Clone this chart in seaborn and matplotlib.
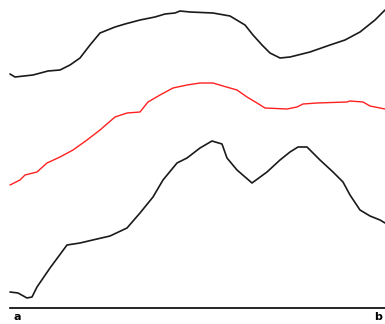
import matplotlib
matplotlib.use("Agg")
import matplotlib.pyplot as plt
import matplotlib.transforms as mtransforms
import seaborn as sns

# positions along the x axis, heights above the baseline
top_x = [0, 5, 23, 38, 50, 60, 70, 80, 90, 95, 105, 115, 130, 145, 155, 165, 170, 180,
         203, 220, 235, 243, 252, 260, 270, 280, 300, 320, 335, 350, 365, 375]
top_y = [234, 231, 233, 237, 238, 243, 250, 263, 275, 277, 281, 284, 288, 291, 294, 295, 297, 296,
         295, 292, 283, 273, 263, 255, 250, 251, 256, 263, 268, 276, 288, 298]

mid_x = [0, 10, 15, 27, 37, 50, 63, 77, 90, 105, 117, 130, 138, 150, 163, 177, 190, 203,
         213, 227, 237, 247, 255, 277, 287, 293, 307, 337, 340, 353, 360, 375]
mid_y = [123, 128, 133, 136, 145, 151, 158, 168, 178, 191, 195, 196, 206, 213, 220, 223, 225, 225,
         222, 218, 211, 205, 200, 199, 201, 204, 205, 206, 207, 206, 202, 199]

low_x = [0, 8, 17, 22, 27, 40, 57, 70, 87, 100, 117, 130, 143, 153, 167, 177, 190, 202,
         212, 217, 227, 242, 257, 270, 280, 288, 297, 310, 323, 333, 340, 350, 360, 370, 375]
low_y = [16, 15, 10, 11, 21, 40, 63, 65, 69, 72, 80, 95, 111, 128, 145, 150, 160, 167,
         164, 150, 138, 125, 136, 148, 156, 161, 161, 148, 136, 126, 113, 98, 92, 88, 85]

tick_labels = ["a", "b"]

sns.set_style("white")
fig = plt.figure(figsize=(3.85, 3.24), dpi=100)
ax = fig.add_axes([10 / 385, 16 / 324, 375 / 385, 308 / 324])

sns.lineplot(x=top_x, y=top_y, ax=ax, color="#1a1a1a", lw=1.2, clip_on=False)
sns.lineplot(x=mid_x, y=mid_y, ax=ax, color="#ff2020", lw=1.0, clip_on=False)
sns.lineplot(x=low_x, y=low_y, ax=ax, color="#1a1a1a", lw=1.2, clip_on=False)

ax.set_xlim(0, 375)
ax.set_ylim(0, 308)
sns.despine(ax=ax, left=True, top=True, right=True)
ax.spines["bottom"].set_color("black")
ax.spines["bottom"].set_linewidth(1.2)
ax.set_yticks([])
ax.set_xticks([0, 375])
ax.set_xticklabels(tick_labels, fontsize=8, fontweight="bold", color="black")
ax.tick_params(axis="x", length=0, pad=3)
labels = ax.get_xticklabels()
labels[0].set_ha("left")
labels[1].set_ha("right")
# nudge the end labels slightly inward
for lab, dx in zip(labels, [4, -3]):
    lab.set_transform(lab.get_transform() +
                      mtransforms.ScaledTranslation(dx / 100, 0, fig.dpi_scale_trans))
ax.set_xlabel("")
ax.set_ylabel("")

fig.savefig("out.png", dpi=100)
